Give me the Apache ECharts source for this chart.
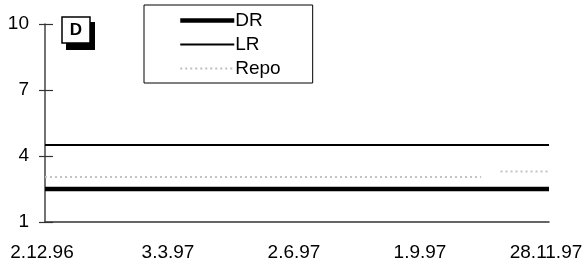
<!DOCTYPE html>
<html>
<head>
<meta charset="utf-8">
<script src="https://cdn.jsdelivr.net/npm/echarts@6/dist/echarts.min.js"></script>
<style>
html,body{margin:0;padding:0;background:#fff;}
#c{width:588px;height:268px;}
</style>
</head>
<body>
<div id="c"></div>
<script>
var categories = ["2.12.96","9.12.96","16.12.96","23.12.96","30.12.96","6.1.97","13.1.97","20.1.97","27.1.97","3.2.97","10.2.97","17.2.97","24.2.97",
"3.3.97","10.3.97","17.3.97","24.3.97","31.3.97","7.4.97","14.4.97","21.4.97","28.4.97","5.5.97","12.5.97","19.5.97","26.5.97",
"2.6.97","9.6.97","16.6.97","23.6.97","30.6.97","7.7.97","14.7.97","21.7.97","28.7.97","4.8.97","11.8.97","18.8.97","25.8.97",
"1.9.97","8.9.97","15.9.97","22.9.97","29.9.97","6.10.97","13.10.97","20.10.97","27.10.97","3.11.97","10.11.97","17.11.97","24.11.97","28.11.97"];

var DR = [2.5,2.5,2.5,2.5,2.5,2.5,2.5,2.5,2.5,2.5,2.5,2.5,2.5,
2.5,2.5,2.5,2.5,2.5,2.5,2.5,2.5,2.5,2.5,2.5,2.5,2.5,
2.5,2.5,2.5,2.5,2.5,2.5,2.5,2.5,2.5,2.5,2.5,2.5,2.5,
2.5,2.5,2.5,2.5,2.5,2.5,2.5,2.5,2.5,2.5,2.5,2.5,2.5,2.5];

var LR = [4.5,4.5,4.5,4.5,4.5,4.5,4.5,4.5,4.5,4.5,4.5,4.5,4.5,
4.5,4.5,4.5,4.5,4.5,4.5,4.5,4.5,4.5,4.5,4.5,4.5,4.5,
4.5,4.5,4.5,4.5,4.5,4.5,4.5,4.5,4.5,4.5,4.5,4.5,4.5,
4.5,4.5,4.5,4.5,4.5,4.5,4.5,4.5,4.5,4.5,4.5,4.5,4.5,4.5];

var Repo = [3.05,3.05,3.05,3.05,3.05,3.05,3.05,3.05,3.05,3.05,3.05,3.05,3.05,
3.05,3.05,3.05,3.05,3.05,3.05,3.05,3.05,3.05,3.05,3.05,3.05,3.05,
3.05,3.05,3.05,3.05,3.05,3.05,3.05,3.05,3.05,3.05,3.05,3.05,3.05,
3.05,3.05,3.05,3.05,3.05,3.05,3.05,null,3.3,3.3,3.3,3.3,3.3,3.3];

var yTicks = [1,4,7,10];
var panelLabel = "D";

var FONT = "'Liberation Sans', Arial, Helvetica, sans-serif";
var chart = echarts.init(document.getElementById('c'), null, {renderer:'canvas'});
chart.setOption({
  animation:false,
  backgroundColor:'#fff',
  grid:{left:45, right:39, top:24, bottom:46, containLabel:false},
  legend:{
    data:[
      {name:'DR', lineStyle:{color:'#000', width:4.5}},
      {name:'LR', lineStyle:{color:'#000', width:2.2}},
      {name:'Repo', lineStyle:{color:'#bdbdbd', width:2, type:[2,3]}}
    ],
    orient:'vertical',
    left:144, top:5,
    padding:[6,32,5,34],
    itemWidth:54, itemHeight:14, itemGap:5,
    backgroundColor:'#fff',
    borderColor:'#000', borderWidth:1, borderRadius:0,
    itemStyle:{color:'rgba(0,0,0,0)', borderColor:'rgba(0,0,0,0)', borderWidth:0, opacity:0},
    textStyle:{fontFamily:FONT, fontSize:19, color:'#000', lineHeight:19, padding:[0,0,0,-4]}
  },
  xAxis:{
    type:'category', data:categories, boundaryGap:false,
    axisLine:{show:true, lineStyle:{color:'#333', width:1.5}},
    axisTick:{show:false},
    axisLabel:{interval:12, color:'#000', fontFamily:FONT, fontSize:19, margin:21, showMaxLabel:true, padding:[0,6,0,0]},
    splitLine:{show:false}
  },
  yAxis:[{
    type:'value', min:yTicks[0], max:yTicks[yTicks.length-1], interval:3,
    axisLine:{show:true, lineStyle:{color:'#444', width:1.5}},
    axisTick:{show:true, length:6, lineStyle:{color:'#333', width:1.2}},
    axisLabel:{color:'#000', fontFamily:FONT, fontSize:19, margin:16},
    splitLine:{show:false}
  },{
    type:'value', min:yTicks[0], max:yTicks[yTicks.length-1], interval:3, position:'left', offset:0,
    axisLine:{show:false},
    axisTick:{show:true, inside:true, length:8, lineStyle:{color:'#333', width:1.2}},
    axisLabel:{show:false},
    splitLine:{show:false}
  }],
  series:[
    {name:'DR', type:'line', data:DR, symbol:'none', z:4,
     lineStyle:{color:'#000', width:4.5}, itemStyle:{color:'#000'}},
    {name:'LR', type:'line', data:LR, symbol:'none', z:3,
     lineStyle:{color:'#000', width:2.2}, itemStyle:{color:'#000'}},
    {name:'Repo', type:'line', data:Repo, symbol:'none', z:2, connectNulls:false,
     lineStyle:{color:'#c4c4c4', width:2, type:[2,3]}, itemStyle:{color:'#c4c4c4'}}
  ],
  graphic:[
    {type:'rect', shape:{x:66, y:22, width:29, height:28}, style:{fill:'#000'}, z:10},
    {type:'rect', shape:{x:62, y:17, width:28, height:26}, style:{fill:'#fff', stroke:'#000', lineWidth:1.5}, z:11},
    {type:'text', x:76, y:30, style:{text:panelLabel, font:'bold 17px '+FONT, fill:'#000', align:'center', verticalAlign:'middle'}, z:12}
  ]
});
</script>
</body>
</html>
